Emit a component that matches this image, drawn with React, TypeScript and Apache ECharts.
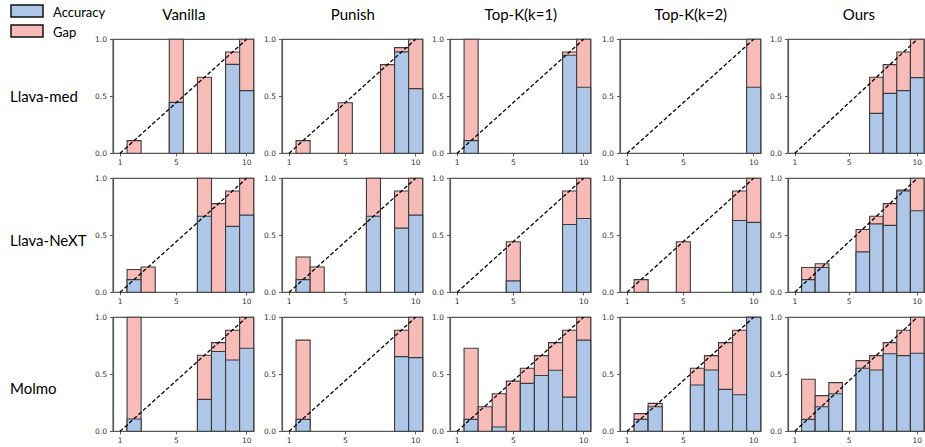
import React, { useEffect, useRef } from "react";
import * as echarts from "echarts";

// ---------- data ----------
const bins = [1, 2, 3, 4, 5, 6, 7, 8, 9, 10];
const methods = ["Vanilla", "Punish", "Top-K(k=1)", "Top-K(k=2)", "Ours"];
const models = ["Llava-med", "Llava-NeXT", "Molmo"];
const xTicks = [1, 5, 10];
const yTicks = [0, 0.5, 1];
const diagonal = [
  [1, 0],
  [10, 1],
];
const N = null;

// Llava-med (top of gap bar, accuracy)
const medVanillaTop = [N, 0.111, N, N, 1.0, N, 0.667, N, 0.889, 1.0];
const medVanillaAcc = [N, 0, N, N, 0.447, N, 0, N, 0.78, 0.55];
const medPunishTop = [N, 0.111, N, N, 0.444, N, N, 0.778, 0.927, 1.0];
const medPunishAcc = [N, 0, N, N, 0, N, N, 0, 0.89, 0.567];
const medTopK1Top = [N, 1.0, N, N, N, N, N, N, 0.889, 1.0];
const medTopK1Acc = [N, 0.111, N, N, N, N, N, N, 0.86, 0.579];
const medTopK2Top = [N, N, N, N, N, N, N, N, N, 1.0];
const medTopK2Acc = [N, N, N, N, N, N, N, N, N, 0.579];
const medOursTop = [N, N, N, N, N, N, 0.667, 0.778, 0.889, 1.0];
const medOursAcc = [N, N, N, N, N, N, 0.35, 0.526, 0.55, 0.664];

// Llava-NeXT
const nextVanillaTop = [N, 0.2, 0.222, N, N, N, 1.0, 0.778, 0.889, 1.0];
const nextVanillaAcc = [N, 0.111, 0, N, N, N, 0.667, 0, 0.578, 0.677];
const nextPunishTop = [N, 0.31, 0.222, N, N, N, 1.0, N, 0.889, 1.0];
const nextPunishAcc = [N, 0.111, 0, N, N, N, 0.667, N, 0.563, 0.677];
const nextTopK1Top = [N, N, N, N, 0.444, N, N, N, 0.889, 1.0];
const nextTopK1Acc = [N, N, N, N, 0.1, N, N, N, 0.595, 0.648];
const nextTopK2Top = [N, 0.111, N, N, 0.444, N, N, N, 0.889, 1.0];
const nextTopK2Acc = [N, 0, N, N, 0, N, N, N, 0.63, 0.613];
const nextOursTop = [N, 0.217, 0.25, N, N, 0.551, 0.667, 0.778, 0.897, 1.0];
const nextOursAcc = [N, 0.111, 0.217, N, N, 0.355, 0.6, 0.587, 0.889, 0.716];

// Molmo
const molVanillaTop = [N, 1.0, N, N, N, N, 0.667, 0.778, 0.886, 1.0];
const molVanillaAcc = [N, 0.108, N, N, N, N, 0.28, 0.7, 0.626, 0.728];
const molPunishTop = [N, 0.8, N, N, N, N, N, N, 0.886, 1.0];
const molPunishAcc = [N, 0.105, N, N, N, N, N, N, 0.655, 0.646];
const molTopK1Top = [N, 0.728, 0.216, 0.33, 0.44, 0.553, 0.664, 0.778, 0.886, 1.0];
const molTopK1Acc = [N, 0.105, 0, 0.038, 0, 0.42, 0.49, 0.535, 0.3, 0.8];
const molTopK2Top = [N, 0.155, 0.245, N, N, 0.553, 0.664, 0.778, 0.886, 1.0];
const molTopK2Acc = [N, 0.105, 0.216, N, N, 0.406, 0.538, 0.368, 0.32, 1.0];
const molOursTop = [N, 0.456, 0.313, 0.427, N, 0.62, 0.664, 0.778, 0.886, 1.0];
const molOursAcc = [N, 0.105, 0.216, 0.33, N, 0.553, 0.538, 0.68, 0.664, 0.684];

const panelTops = [
  [medVanillaTop, medPunishTop, medTopK1Top, medTopK2Top, medOursTop],
  [nextVanillaTop, nextPunishTop, nextTopK1Top, nextTopK2Top, nextOursTop],
  [molVanillaTop, molPunishTop, molTopK1Top, molTopK2Top, molOursTop],
];
const panelAccs = [
  [medVanillaAcc, medPunishAcc, medTopK1Acc, medTopK2Acc, medOursAcc],
  [nextVanillaAcc, nextPunishAcc, nextTopK1Acc, nextTopK2Acc, nextOursAcc],
  [molVanillaAcc, molPunishAcc, molTopK1Acc, molTopK2Acc, molOursAcc],
];

// ---------- layout / style ----------
const gridLefts = [113, 282, 450, 620, 788];
const gridTops = [39.3, 178.3, 317.3];
const gridW = 140.7;
const gridH = 114;
const rowLabelX = [10, 10, 10];
const rowLabelY = [96, 239.5, 387.5];
const PINK = "#f8bcb8";
const BLUE = "#aec7e8";
const EDGE = "#3c3c3c";
const FRAME = "#5a5a5a";
const TICK_FONT = "DejaVu Sans";
const LABEL_FONT = "Lato";

function buildOption() {
  const grid: any[] = [];
  const xAxis: any[] = [];
  const yAxis: any[] = [];
  const series: any[] = [];
  const graphic: any[] = [];
  let idx = 0;
  models.forEach((model, r) => {
    methods.forEach((method, c) => {
      grid.push({
        left: gridLefts[c],
        top: gridTops[r],
        width: gridW,
        height: gridH,
        show: true,
        borderColor: FRAME,
        borderWidth: 1.2,
        backgroundColor: "transparent",
      });
      xAxis.push({
        gridIndex: idx,
        type: "value",
        min: 0.5,
        max: 10.5,
        axisLine: { show: true, onZero: false, lineStyle: { color: FRAME, width: 1.2 } },
        splitLine: { show: false },
        axisTick: { show: true, customValues: xTicks, length: 3, lineStyle: { color: FRAME } },
        axisLabel: {
          customValues: xTicks,
          fontSize: 7.5,
          color: "#333",
          margin: 5,
          fontFamily: TICK_FONT,
          formatter: (v: number) => String(v),
        },
      });
      yAxis.push({
        gridIndex: idx,
        type: "value",
        min: 0,
        max: 1,
        interval: 0.5,
        axisLine: { show: true, lineStyle: { color: FRAME, width: 1.2 } },
        splitLine: { show: false },
        axisTick: { show: true, length: 3, lineStyle: { color: FRAME } },
        axisLabel: {
          customValues: yTicks,
          fontSize: 7.5,
          color: "#333",
          margin: 6,
          fontFamily: TICK_FONT,
          formatter: (v: number) => v.toFixed(1),
        },
      });
      const tops = panelTops[r][c];
      const accs = panelAccs[r][c];
      const data: number[][] = [];
      bins.forEach((b, i) => {
        if (tops[i] !== null) data.push([b, tops[i] as number, (accs[i] ?? 0) as number]);
      });
      series.push({
        type: "custom",
        xAxisIndex: idx,
        yAxisIndex: idx,
        z: 2,
        clip: false,
        data,
        renderItem: (_p: any, api: any) => {
          const b = api.value(0);
          const top = api.value(1);
          const acc = api.value(2);
          const p0 = api.coord([b - 0.5, 0]);
          const pt = api.coord([b + 0.5, top]);
          const pa = api.coord([b + 0.5, acc]);
          const children: any[] = [];
          if (top > 0) {
            children.push({
              type: "rect",
              shape: { x: p0[0], y: pt[1], width: pt[0] - p0[0], height: p0[1] - pt[1] },
              style: { fill: PINK, stroke: EDGE, lineWidth: 1.1 },
            });
          }
          if (acc > 0) {
            children.push({
              type: "rect",
              shape: { x: p0[0], y: pa[1], width: pa[0] - p0[0], height: p0[1] - pa[1] },
              style: { fill: BLUE, stroke: EDGE, lineWidth: 1.1 },
            });
          }
          return { type: "group", children };
        },
      });
      series.push({
        type: "line",
        xAxisIndex: idx,
        yAxisIndex: idx,
        z: 3,
        data: diagonal,
        symbol: "none",
        silent: true,
        lineStyle: { color: "#000", width: 1.3, type: [4, 2.2] },
      });
      idx++;
    });
  });

  methods.forEach((m, c) => {
    graphic.push({
      type: "text",
      x: gridLefts[c] + gridW / 2 + 0.5,
      y: 14,
      style: {
        text: m,
        font: `15px ${LABEL_FONT}`,
        fill: "#000",
        textAlign: "center",
        textVerticalAlign: "middle",
      },
    });
  });
  models.forEach((m, r) => {
    graphic.push({
      type: "text",
      x: rowLabelX[r],
      y: rowLabelY[r],
      style: {
        text: m,
        font: `15px ${LABEL_FONT}`,
        fill: "#000",
        textAlign: "left",
        textVerticalAlign: "middle",
      },
    });
  });
  // legend
  const legendItems = [
    { name: "Accuracy", color: BLUE, y: 5 },
    { name: "Gap", color: PINK, y: 25 },
  ];
  legendItems.forEach((it) => {
    graphic.push({
      type: "rect",
      shape: { x: 11, y: it.y, width: 32, height: 12 },
      style: { fill: it.color, stroke: "#111", lineWidth: 1.5 },
    });
    graphic.push({
      type: "text",
      x: 53,
      y: it.y + 6.5,
      style: {
        text: it.name,
        font: `13px ${LABEL_FONT}`,
        fill: "#000",
        textAlign: "left",
        textVerticalAlign: "middle",
      },
    });
  });

  return { animation: false, grid, xAxis, yAxis, series, graphic };
}

export default function App() {
  const ref = useRef<HTMLDivElement>(null);
  useEffect(() => {
    if (!ref.current) return;
    const chart = echarts.init(ref.current, undefined, { renderer: "svg" });
    chart.setOption(buildOption() as any);
    return () => chart.dispose();
  }, []);
  return (
    <div
      ref={ref}
      style={{ position: "absolute", left: 0, top: 0, width: 925, height: 447, background: "#fff" }}
    />
  );
}
